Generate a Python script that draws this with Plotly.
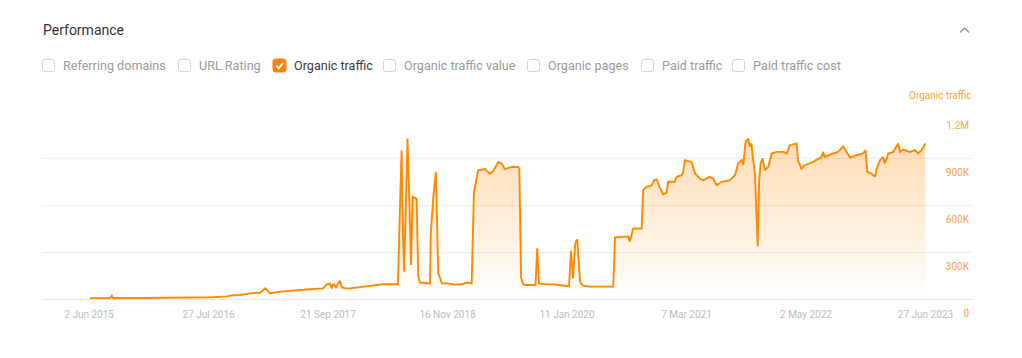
import plotly.graph_objects as go

# ---------------- data ----------------
dates = [
    "2015-06-05", "2015-08-15", "2015-08-21", "2015-08-25", "2015-11-28", "2016-02-17",
    "2016-04-17", "2016-06-15", "2016-08-11", "2016-09-29", "2016-10-21", "2016-11-15",
    "2016-12-20", "2017-01-24", "2017-02-11", "2017-02-19", "2017-02-28", "2017-04-05",
    "2017-06-02", "2017-07-19", "2017-09-04", "2017-09-16", "2017-09-28", "2017-10-04",
    "2017-10-09", "2017-10-19", "2017-10-27", "2017-11-02", "2017-11-08", "2017-11-19",
    "2017-12-07", "2018-01-23", "2018-02-27", "2018-04-03", "2018-05-25", "2018-06-01",
    "2018-06-07", "2018-06-12", "2018-06-16", "2018-06-22", "2018-06-28", "2018-07-05",
    "2018-07-10", "2018-07-16", "2018-07-30", "2018-08-05", "2018-08-11", "2018-09-15",
    "2018-09-18", "2018-09-27", "2018-10-06", "2018-10-14", "2018-10-27", "2018-11-14",
    "2018-12-12", "2019-01-06", "2019-01-22", "2019-02-09", "2019-02-17", "2019-03-04",
    "2019-03-28", "2019-04-14", "2019-04-25", "2019-05-14", "2019-05-26", "2019-06-06",
    "2019-06-20", "2019-07-05", "2019-07-23", "2019-07-27", "2019-08-02", "2019-08-09",
    "2019-08-16", "2019-09-22", "2019-09-28", "2019-10-04", "2019-10-25", "2019-11-29",
    "2020-01-03", "2020-01-18", "2020-01-25", "2020-02-01", "2020-02-09", "2020-02-16",
    "2020-02-26", "2020-03-06", "2020-04-01", "2020-06-22", "2020-06-28", "2020-08-14",
    "2020-08-19", "2020-08-31", "2020-09-30", "2020-10-05", "2020-10-17", "2020-11-04",
    "2020-11-13", "2020-11-22", "2020-12-01", "2020-12-15", "2020-12-27", "2021-01-01",
    "2021-01-25", "2021-01-31", "2021-02-18", "2021-02-23", "2021-03-01", "2021-03-25",
    "2021-04-06", "2021-04-23", "2021-05-05", "2021-05-28", "2021-06-09", "2021-06-21",
    "2021-07-09", "2021-08-07", "2021-08-25", "2021-09-05", "2021-09-17", "2021-09-23",
    "2021-10-01", "2021-10-10", "2021-10-16", "2021-10-22", "2021-10-28", "2021-11-03",
    "2021-11-09", "2021-11-13", "2021-11-18", "2021-11-23", "2021-11-30", "2021-12-08",
    "2021-12-20", "2022-01-01", "2022-01-18", "2022-02-11", "2022-02-23", "2022-03-06",
    "2022-03-30", "2022-04-04", "2022-04-16", "2022-04-28", "2022-05-27", "2022-06-26",
    "2022-07-01", "2022-07-07", "2022-08-06", "2022-08-23", "2022-09-10", "2022-09-22",
    "2022-10-04", "2022-10-27", "2022-11-19", "2022-11-28", "2022-12-04", "2022-12-19",
    "2022-12-31", "2023-01-06", "2023-01-18", "2023-01-29", "2023-02-04", "2023-02-16",
    "2023-03-05", "2023-03-23", "2023-03-29", "2023-04-09", "2023-05-03", "2023-05-21",
    "2023-06-01", "2023-06-13", "2023-06-27",
]
organic_traffic = [
    5000, 6000, 21000, 6000, 6000, 8000,
    11000, 9000, 11000, 17000, 24000, 26000,
    36000, 40000, 68000, 55000, 36000, 47000,
    53000, 62000, 68000, 94000, 98000, 68000,
    98000, 75000, 100000, 117000, 75000, 68000,
    68000, 79000, 89000, 94000, 94000, 500000,
    951000, 400000, 174000, 600000, 1026000, 600000,
    217000, 653000, 640000, 142000, 105000, 100000,
    420000, 653000, 813000, 166000, 100000, 100000,
    92000, 94000, 105000, 100000, 685000, 823000,
    830000, 800000, 815000, 876000, 865000, 830000,
    840000, 845000, 844000, 834000, 140000, 95000,
    89000, 89000, 324000, 100000, 95000, 93000,
    85000, 80000, 308000, 132000, 355000, 381000,
    110000, 85000, 79000, 79000, 394000, 400000,
    366000, 451000, 451000, 696000, 717000, 725000,
    760000, 765000, 720000, 670000, 680000, 749000,
    749000, 781000, 791000, 810000, 887000, 876000,
    802000, 770000, 760000, 781000, 770000, 728000,
    749000, 760000, 791000, 866000, 887000, 855000,
    1004000, 1026000, 972000, 994000, 887000, 802000,
    525000, 338000, 760000, 866000, 898000, 823000,
    845000, 930000, 940000, 940000, 930000, 983000,
    994000, 887000, 834000, 855000, 876000, 908000,
    940000, 908000, 930000, 940000, 976000, 940000,
    904000, 919000, 930000, 951000, 813000, 802000,
    781000, 834000, 887000, 908000, 866000, 930000,
    940000, 994000, 940000, 955000, 940000, 951000,
    930000, 951000, 994000,
]

tick_dates = ["2015-06-02", "2016-07-27", "2017-09-21", "2018-11-16",
              "2020-01-11", "2021-03-07", "2022-05-02", "2023-06-27"]
tick_labels = ["2 Jun 2015", "27 Jul 2016", "21 Sep 2017", "16 Nov 2018",
               "11 Jan 2020", "7 Mar 2021", "2 May 2022", "27 Jun 2023"]
y_ticks = [0, 300000, 600000, 900000, 1200000]
y_tick_labels = ["0", "300K", "600K", "900K", "1.2M"]
x_range = ["2014-12-18", "2023-12-08"]
y_range = [0, 1201500]

metrics = ["Referring domains", "URL Rating", "Organic traffic", "Organic traffic value",
           "Organic pages", "Paid traffic", "Paid traffic cost"]
metric_checked = [False, False, True, False, False, False, False]

# ---------------- layout geometry ----------------
# page body has an 8px default margin, so the figure is drawn 8px in from the window corner
OFF = 8
W, H = 1006, 342
L, T = 42 - OFF, 111 - OFF
PW, PH = 930, 188
R = W - L - PW
B = H - T - PH

def px2x(px):  # window pixel -> paper x
    return (px - OFF - L) / PW

def py2y(py):  # window pixel -> paper y
    return (T + PH - (py - OFF)) / PH

ORANGE = "#ff8a00"
FONT = "Roboto, Arial, sans-serif"

fig = go.Figure()
fig.add_trace(go.Scatter(
    x=dates, y=organic_traffic, mode="lines",
    line=dict(color=ORANGE, width=1.9),
    fill="tozeroy",
    fillgradient=dict(type="vertical",
                      colorscale=[[0, "rgba(255,138,0,0.0)"], [1, "rgba(255,138,0,0.30)"]]),
    hoverinfo="skip", showlegend=False,
))

annotations = []
shapes = []

# header
annotations.append(dict(text="Performance", x=px2x(41), y=py2y(30), xref="paper", yref="paper",
                        xanchor="left", yanchor="middle", showarrow=False,
                        font=dict(family=FONT, size=14, color="#333333")))
# chevron
shapes.append(dict(type="path", xref="paper", yref="paper",
                   path=f"M {px2x(960)} {py2y(32.5)} L {px2x(964.5)} {py2y(28)} L {px2x(969)} {py2y(32.5)}",
                   line=dict(color="#9a9a9a", width=1.5)))

# checkbox row
def rounded_rect(x0, y0, x1, y1, r):
    return (f"M {px2x(x0 + r)} {py2y(y0)} L {px2x(x1 - r)} {py2y(y0)} "
            f"Q {px2x(x1)} {py2y(y0)} {px2x(x1)} {py2y(y0 + r)} "
            f"L {px2x(x1)} {py2y(y1 - r)} Q {px2x(x1)} {py2y(y1)} {px2x(x1 - r)} {py2y(y1)} "
            f"L {px2x(x0 + r)} {py2y(y1)} Q {px2x(x0)} {py2y(y1)} {px2x(x0)} {py2y(y1 - r)} "
            f"L {px2x(x0)} {py2y(y0 + r)} Q {px2x(x0)} {py2y(y0)} {px2x(x0 + r)} {py2y(y0)} Z")

box_x = [42, 178, 273, 383, 527, 641, 732]
row_y = 65.5
for bx, name, checked in zip(box_x, metrics, metric_checked):
    if checked:
        shapes.append(dict(type="path", xref="paper", yref="paper",
                           path=rounded_rect(bx, row_y - 6.5, bx + 13, row_y + 6.5, 2.5),
                           fillcolor="#ff8200", line=dict(color="#ff8200", width=1)))
        shapes.append(dict(type="path", xref="paper", yref="paper",
                           path=f"M {px2x(bx + 3.2)} {py2y(row_y + 0.3)} L {px2x(bx + 5.7)} {py2y(row_y + 2.8)} L {px2x(bx + 10)} {py2y(row_y - 2.6)}",
                           line=dict(color="white", width=1.8)))
        col = "#3a3a3a"
    else:
        shapes.append(dict(type="path", xref="paper", yref="paper",
                           path=rounded_rect(bx + 0.5, row_y - 6, bx + 12.5, row_y + 6, 2.5),
                           fillcolor="white", line=dict(color="#d4d4d4", width=1)))
        col = "#9b9b9b"
    annotations.append(dict(text=name, x=px2x(bx + 19), y=py2y(row_y), xref="paper", yref="paper",
                            xanchor="left", yanchor="middle", showarrow=False,
                            font=dict(family=FONT, size=12.6, color=col)))

# axis title (top-right)
annotations.append(dict(text="Organic traffic", x=px2x(974), y=py2y(95), xref="paper", yref="paper",
                        xanchor="right", yanchor="middle", showarrow=False,
                        font=dict(family=FONT, size=10, color="#ffa040")))

fig.update_layout(
    width=W, height=H,
    margin=dict(l=L, r=R, t=T, b=B, autoexpand=False),
    paper_bgcolor="white", plot_bgcolor="white",
    font=dict(family=FONT),
    annotations=annotations, shapes=shapes,
    xaxis=dict(type="date", range=x_range, tickvals=tick_dates, ticktext=tick_labels,
               showgrid=False, zeroline=False, showline=False, ticks="",
               ticklabelstandoff=8,
               tickfont=dict(family=FONT, size=10, color="#bdbdbd"), fixedrange=True),
    yaxis=dict(range=y_range, tickvals=y_ticks, ticktext=y_tick_labels, side="right",
               ticklabelposition="inside", ticklabelshift=14, ticklabeloverflow="allow",
               showgrid=True, gridcolor="#ededed", gridwidth=1,
               zeroline=True, zerolinecolor="#e6e6e6", zerolinewidth=1,
               showline=False, ticks="",
               tickfont=dict(family=FONT, size=10, color="#ffa040"), fixedrange=True),
)

fig.write_html("out.html")
